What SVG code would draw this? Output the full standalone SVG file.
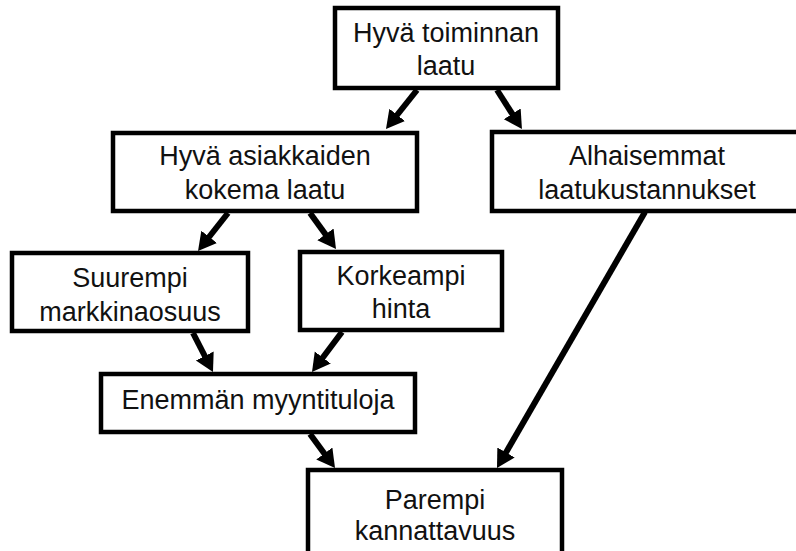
<svg xmlns="http://www.w3.org/2000/svg" width="796" height="551" viewBox="0 0 796 551">
<style>
.box{fill:#fff;stroke:#000;stroke-width:4.5;stroke-linejoin:miter}
.lbl{font-family:"Liberation Sans",Arial,sans-serif;font-size:27px;fill:#111;text-anchor:middle}
.conn line{stroke:#000;stroke-width:6;marker-end:url(#ah)}
</style>
<defs>
<marker id="ah" markerUnits="userSpaceOnUse" markerWidth="22" markerHeight="22" refX="4" refY="10" orient="auto">
<path d="M0,0 L18,10 L0,20 z" fill="#000"/>
</marker>
</defs>
<rect width="796" height="551" fill="#fff"/>
<g id="connectors" class="conn">
<line x1="417" y1="90" x2="394.7" y2="118"/>
<line x1="497" y1="90" x2="514.4" y2="117.2"/>
<line x1="228" y1="213" x2="206.7" y2="240"/>
<line x1="310" y1="213" x2="327.8" y2="237.6"/>
<line x1="193" y1="333" x2="206.6" y2="359.5"/>
<line x1="342" y1="332" x2="320.4" y2="360.8"/>
<line x1="310" y1="434" x2="326.7" y2="456.7"/>
<line x1="645" y1="212" x2="504" y2="455.9"/>
</g>
<g id="n1"><rect class="box" x="335" y="8" width="223" height="80"/>
<text class="lbl" x="446" y="42">Hyvä toiminnan</text><text class="lbl" x="446" y="75">laatu</text></g>
<g id="n2"><rect class="box" x="113" y="133" width="304" height="78"/>
<text class="lbl" x="265" y="165">Hyvä asiakkaiden</text><text class="lbl" x="265" y="199">kokema laatu</text></g>
<g id="n3"><rect class="box" x="492" y="132" width="310" height="79"/>
<text class="lbl" x="647" y="165">Alhaisemmat</text><text class="lbl" x="647" y="199">laatukustannukset</text></g>
<g id="n4"><rect class="box" x="12" y="253" width="236" height="78"/>
<text class="lbl" x="130" y="287">Suurempi</text><text class="lbl" x="130" y="321">markkinaosuus</text></g>
<g id="n5"><rect class="box" x="300" y="252" width="202" height="78"/>
<text class="lbl" x="401" y="285">Korkeampi</text><text class="lbl" x="401" y="318">hinta</text></g>
<g id="n6"><rect class="box" x="101" y="374" width="314" height="58"/>
<text class="lbl" x="258" y="409">Enemmän myyntituloja</text></g>
<g id="n7"><rect class="box" x="308" y="470" width="254" height="84"/>
<text class="lbl" x="435" y="509">Parempi</text><text class="lbl" x="435" y="540">kannattavuus</text></g>
</svg>
